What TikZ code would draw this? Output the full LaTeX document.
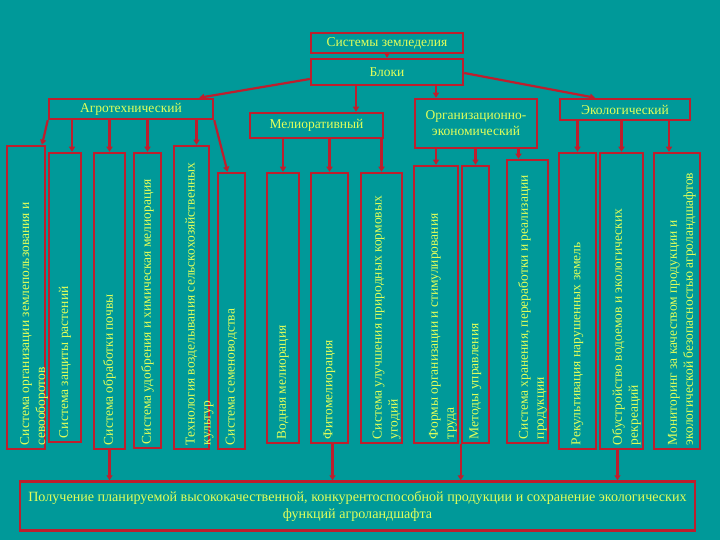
\documentclass[tikz,border=0pt]{standalone}
\usepackage{fontspec}
\setmainfont{Liberation Serif}
\usetikzlibrary{positioning,arrows.meta,calc}
\definecolor{SlideTeal}{RGB}{0,153,153}
\definecolor{FrameRed}{RGB}{190,30,45}
\definecolor{LabelYellow}{RGB}{225,255,90}

\begin{document}
\begin{tikzpicture}[x=1pt,y=-1pt,
  every node/.style={font=\fontsize{13.5}{16}\selectfont, text=LabelYellow},
  blk/.style={draw=FrameRed, line width=2.5pt, inner sep=0pt, align=center},
  vlbl/.style={rotate=90, anchor=west, align=left, inner sep=0pt},
  arr/.style={-{Triangle[length=5pt,width=6pt]}, line width=2.2pt, FrameRed}]
  \fill[SlideTeal] (0,0) rectangle (720,540);
  \useasboundingbox (0,0) rectangle (720,540);

  % top levels
  \node[blk, minimum width=152pt, minimum height=20pt] (sys) at (387,43) {Системы земледелия};
  \node[blk, minimum width=152pt, minimum height=26pt] (blocks) at (387,72) {Блоки};
  \node[blk, minimum width=164pt, minimum height=20pt] (agro) at (131,109) {Агротехнический};
  \node[blk, minimum width=133pt, minimum height=25pt] (melio) at (316.5,125.5) {Мелиоративный};
  \node[blk, minimum width=122pt, minimum height=49pt] (orgec) at (476,123.5) {Организационно-\\экономический};
  \node[blk, minimum width=130pt, minimum height=21pt] (eco) at (625,109.5) {Экологический};

  % tall boxes
  \node[blk, minimum width=38pt, minimum height=303pt] (a1) at (26,297.5) {};
  \node[blk, minimum width=32pt, minimum height=289pt] (a2) at (65,297.5) {};
  \node[blk, minimum width=31pt, minimum height=296pt] (a3) at (109.5,301) {};
  \node[blk, minimum width=27pt, minimum height=295pt] (a4) at (147.5,300.5) {};
  \node[blk, minimum width=35pt, minimum height=303pt] (a5) at (191.5,297.5) {};
  \node[blk, minimum width=27pt, minimum height=276pt] (a6) at (231.5,311) {};
  \node[blk, minimum width=32pt, minimum height=270pt] (m1) at (283,308) {};
  \node[blk, minimum width=37pt, minimum height=270pt] (m2) at (329.5,308) {};
  \node[blk, minimum width=41pt, minimum height=270pt] (m3) at (381.5,308) {};
  \node[blk, minimum width=44pt, minimum height=277pt] (o1) at (436,304.5) {};
  \node[blk, minimum width=27pt, minimum height=277pt] (o2) at (475.5,304.5) {};
  \node[blk, minimum width=41pt, minimum height=283pt] (o3) at (527.5,301.5) {};
  \node[blk, minimum width=37pt, minimum height=296pt] (e1) at (577.5,301) {};
  \node[blk, minimum width=43pt, minimum height=296pt] (e2) at (621.5,301) {};
  \node[blk, minimum width=46pt, minimum height=296pt] (e3) at (677,301) {};

  % rotated labels
  \node[vlbl] (ta1) at ([xshift=8pt,yshift=5pt]a1.south) {Система организации землепользования и\\севооборотов};
  \node[vlbl] (ta2) at ([yshift=5pt]a2.south) {Система защиты растений};
  \node[vlbl] (ta3) at ([yshift=5pt]a3.south) {Система обработки почвы};
  \node[vlbl] (ta4) at ([yshift=5pt]a4.south) {Система удобрения и химическая мелиорация};
  \node[vlbl] (ta5) at ([xshift=8pt,yshift=5pt]a5.south) {Технология возделывания сельскохозяйственных\\культур};
  \node[vlbl] (ta6) at ([yshift=5pt]a6.south) {Система семеноводства};
  \node[vlbl] (tm1) at ([yshift=5pt]m1.south) {Водная мелиорация};
  \node[vlbl] (tm2) at ([yshift=5pt]m2.south) {Фитомелиорация};
  \node[vlbl] (tm3) at ([xshift=5pt,yshift=5pt]m3.south) {Система улучшения природных кормовых\\угодий};
  \node[vlbl] (to1) at ([xshift=7pt,yshift=5pt]o1.south) {Формы организации и стимулирования\\труда};
  \node[vlbl] (to2) at ([yshift=5pt]o2.south) {Методы управления};
  \node[vlbl] (to3) at ([xshift=5pt,yshift=5pt]o3.south) {Система хранения, переработки и реализации\\продукции};
  \node[vlbl] (te1) at ([yshift=5pt]e1.south) {Рекультивация нарушенных земель};
  \node[vlbl] (te2) at ([xshift=5pt,yshift=5pt]e2.south) {Обустройство водоемов и экологических\\рекреаций};
  \node[vlbl] (te3) at ([xshift=5pt,yshift=5pt]e3.south) {Мониторинг за качеством продукции и\\экологической безопасностью агроландшафтов};

  % result
  \node[blk, minimum width=675pt, minimum height=49pt, font=\fontsize{14.1}{17}\selectfont] (res) at (357.5,506)
    {Получение планируемой высококачественной, конкурентоспособной продукции и сохранение экологических\\функций агроландшафта};

  % links
  \draw[arr] (sys) -- (blocks);
  \draw[arr] ([yshift=-7pt]blocks.west) -- ([xshift=-15pt]agro.north east);
  \draw[arr] ([yshift=-1pt]blocks.east) -- ([xshift=-30pt]eco.north);
  \draw[arr] ([xshift=-31pt]blocks.south) -- ([xshift=-31pt]blocks.south |- melio.north);
  \draw[arr] ([xshift=49pt]blocks.south) -- ([xshift=49pt]blocks.south |- orgec.north);

  \draw[arr] (agro.south west) -- ([xshift=16pt]a1.north);
  \draw[arr] ([xshift=7pt]a2.north |- agro.south) -- ([xshift=7pt]a2.north);
  \draw[arr] (a3.north |- agro.south) -- (a3.north);
  \draw[arr] (a4.north |- agro.south) -- (a4.north);
  \draw[arr] ([xshift=5pt]a5.north |- agro.south) -- ([xshift=5pt]a5.north);
  \draw[arr] (agro.south east) -- ([xshift=-4pt]a6.north);

  \draw[arr] (m1.north |- melio.south) -- (m1.north);
  \draw[arr] (m2.north |- melio.south) -- (m2.north);
  \draw[arr] (m3.north |- melio.south) -- (m3.north);

  \draw[arr] (o1.north |- orgec.south) -- (o1.north);
  \draw[arr] (o2.north |- orgec.south) -- (o2.north);
  \draw[arr] ([xshift=-9pt]o3.north |- orgec.south) -- ([xshift=-9pt]o3.north);

  \draw[arr] (e1.north |- eco.south) -- (e1.north);
  \draw[arr] (e2.north |- eco.south) -- (e2.north);
  \draw[arr] ([xshift=-8pt]e3.north |- eco.south) -- ([xshift=-8pt]e3.north);

  \draw[arr] (a3.south) -- (a3.south |- res.north);
  \draw[arr] ([xshift=3pt]m2.south) -- ([xshift=3pt]m2.south |- res.north);
  \draw[arr] (o2.south west) -- (o2.south west |- res.north);
  \draw[arr] ([xshift=-4pt]e2.south) -- ([xshift=-4pt]e2.south |- res.north);
\end{tikzpicture}
\end{document}
